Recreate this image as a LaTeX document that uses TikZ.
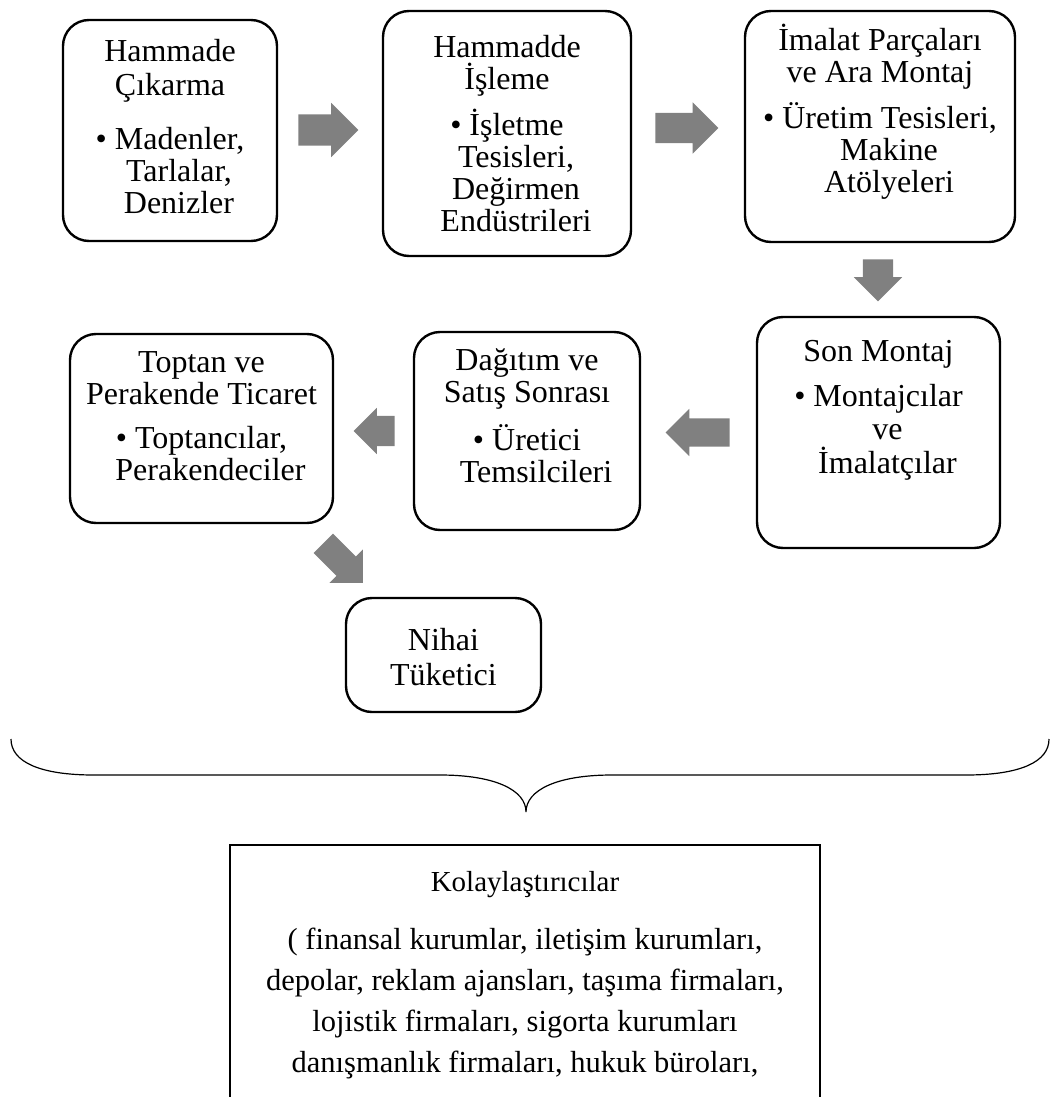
\documentclass[tikz,border=0pt]{standalone}
\usepackage{fontspec}
\setmainfont{Liberation Serif}
\usetikzlibrary{shapes.arrows,calc}
\definecolor{arrowgray}{RGB}{128,128,128}
\tikzset{
  stage/.style={draw=black, line width=2.4pt, rounded corners=26pt, inner sep=0pt},
  stagetext/.style={anchor=north, align=center, inner sep=0pt,
    font=\fontsize{32}{32}\selectfont},
  facbox/.style={draw=black, line width=2.6pt, inner sep=0pt},
  factext/.style={anchor=north, align=center, inner sep=0pt,
    font=\fontsize{30.5}{41}\selectfont},
  blockarrow/.style n args={3}{single arrow, fill=arrowgray, draw=none,
    inner xsep=0pt, inner ysep=#2/2, minimum height=#1, minimum width=#3,
    single arrow head extend={(#3-#2)/2}, single arrow tip angle=90,
    anchor=tail},
  brace/.style={draw=black, line width=1.2pt}
}
\newcommand{\hang}{\hspace*{18pt}}
\begin{document}
\begin{tikzpicture}[x=1pt,y=1pt]
\useasboundingbox (0,0) rectangle (1053,-1097);
\clip (0,0) rectangle (1053,-1097);

% process stages
\node[stage, minimum width=214, minimum height=221] (b1) at (170,-130.5) {};
\node[stage, minimum width=248, minimum height=245] (b2) at (507,-133.5) {};
\node[stage, minimum width=270, minimum height=231] (b3) at (880,-126.5) {};
\node[stage, minimum width=243, minimum height=231] (b4) at (878.5,-432.5) {};
\node[stage, minimum width=226, minimum height=198] (b5) at (527,-431) {};
\node[stage, minimum width=263, minimum height=189] (b6) at (201.5,-428.5) {};
\node[stage, minimum width=195, minimum height=114] (b7) at (443.5,-655) {};

\node[stagetext] (t1) at ([yshift=-20]b1.north)
  {Hammade\\[2pt]Çıkarma\\[22pt]\textbullet\ Madenler,\\\hang Tarlalar,\\\hang Denizler};
\node[stagetext] (t2) at ([yshift=-25]b2.north)
  {Hammadde\\İşleme\\[12pt]\textbullet\ İşletme\\\hang Tesisleri,\\\hang Değirmen\\\hang Endüstrileri};
\node[stagetext] (t3) at ([yshift=-14]b3.north)
  {İmalat Parçaları\\ve Ara Montaj\\[12pt]\textbullet\ Üretim Tesisleri,\\\hang Makine\\\hang Atölyeleri};
\node[stagetext] (t4) at ([yshift=-24]b4.north)
  {Son Montaj\\[13pt]\textbullet\ Montajcılar\\[1pt]\hang ve\\[2pt]\hang İmalatçılar};
\node[stagetext] (t5) at ([yshift=-18]b5.north)
  {Dağıtım ve\\Satış Sonrası\\[14pt]\textbullet\ Üretici\\\hang Temsilcileri};
\node[stagetext] (t6) at ([yshift=-19]b6.north)
  {Toptan ve\\Perakende Ticaret\\[12pt]\textbullet\ Toptancılar,\\\hang Perakendeciler};
\node[stagetext] (t7) at ([yshift=-31]b7.north) {Nihai\\[3pt]Tüketici};

% block arrows between the stages
\node[blockarrow={60}{31}{54}] (a12) at ($(b1.east)+(20,0.5)$) {};
\node[blockarrow={63}{30}{51}] (a23) at ($(b2.east)+(23,5.5)$) {};
\node[blockarrow={42}{30}{48}, rotate=-90] (a34) at ($(b3.south)+(-2,-16)$) {};
\node[blockarrow={64}{28}{47}, rotate=180] (a45) at ($(b4.west)+(-26,0)$) {};
\node[blockarrow={41}{30}{46}, rotate=180] (a56) at ($(b5.west)+(-18,0)$) {};
\node[blockarrow={56}{27}{47}, rotate=-45] (a67) at ($(b6.south east)+(-11,-19)$) {};

% brace gathering the chain
\coordinate (brL) at (11,-739);
\coordinate (brR) at (1049,-739);
\coordinate (brTip) at (526,-812);
\draw[brace] (brL) .. controls (11,-762) and (40,-775) .. (94,-775)
  -- (440,-775) .. controls (495,-775) and (526,-790) .. (brTip)
  .. controls (526,-790) and (557,-775) .. (612,-775)
  -- (966,-775) .. controls (1020,-775) and (1049,-762) .. (brR);

% facilitators
\node[facbox, minimum width=590, minimum height=290] (fac) at (525,-990) {};
\node[factext] (ft) at ([yshift=-27]fac.north)
  {{\fontsize{29}{41}\selectfont Kolaylaştırıcılar}\\[17pt]( finansal kurumlar, iletişim kurumları,\\depolar, reklam ajansları, taşıma firmaları,\\lojistik firmaları, sigorta kurumları\\danışmanlık firmaları, hukuk büroları,};
\end{tikzpicture}
\end{document}
